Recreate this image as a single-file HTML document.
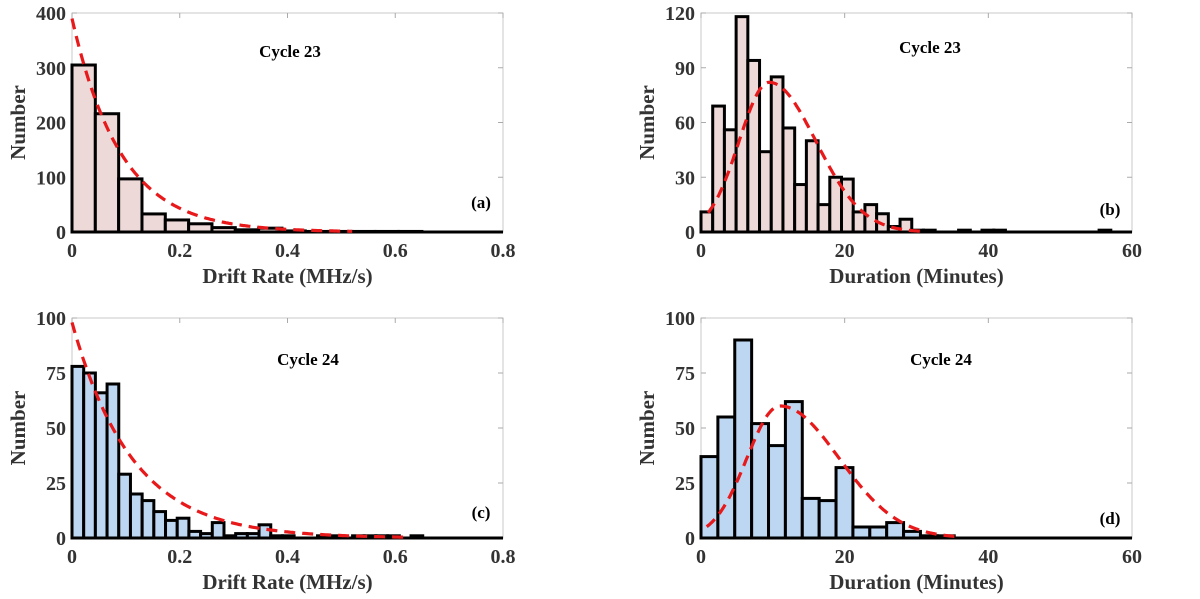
<!DOCTYPE html>
<html><head><meta charset="utf-8"><style>
body{margin:0;background:#fff;}
svg{display:block;font-family:"Liberation Serif",serif;font-weight:bold;}
</style></head><body>
<svg id="fig" width="1200" height="599" viewBox="0 0 1200 599"></svg>
<script>
// Panel (a) drift rate cycle 23
const aValues=[305,216,97,33,22,15,8,4,7,2,1,1,1,1,1];
// Panel (b) duration cycle 23
const bValues=[11,69,56,118,94,44,85,57,26,50,15,30,29,11,15,10,3,7,1,1,0,0,1,0,1,1,0,0,0,0,0,0,0,0,1];
// Panel (c) drift rate cycle 24
const cValues=[78,75,66,70,29,20,17,12,8,9,3,2,7,1,2,2,6,1,1,0,0,1,1,0,1,1,1,1,0,1];
// Panel (d) duration cycle 24
const dValues=[37,55,90,52,42,62,18,17,32,5,5,7,3,1,1,0,0,0,0,0,0,0,0,0,0];
const binWidths=[0.0433,1.63,0.0217,2.35];
const xTicksDrift=[0,0.2,0.4,0.6,0.8];
const xTicksDur=[0,20,40,60];
const yTicksA=[0,100,200,300,400];
const yTicksB=[0,30,60,90,120];
const yTicksC=[0,25,50,75,100];
const yTicksD=[0,25,50,75,100];
// fit params: exponential [A, tau, end], split gaussian [peak, mean, sigmaLeft, sigmaRight, start, end]
const fitA=[390,0.091,0.52];
const fitC=[98,0.112,0.62];
const fitB=[82,9.5,4.2,6.5,1,31];
const fitD=[60,11,4.6,8.2,0.8,36];

const NS="http://www.w3.org/2000/svg";
const svg=document.getElementById('fig');
function mk(tag,attrs,parent){const e=document.createElementNS(NS,tag);for(const k in attrs)e.setAttribute(k,attrs[k]);(parent||svg).appendChild(e);return e;}

function panel(o){
  const g=mk('g',{});
  
  
  const X=v=>o.x0+(v-o.xmin)/(o.xmax-o.xmin)*(o.x1-o.x0);
  const Y=v=>o.y0-(v/o.ymax)*(o.y0-o.y1);
  const fr=mk('rect',{x:o.x0,y:o.y1,width:o.x1-o.x0,height:o.y0-o.y1,fill:'none',stroke:'#c8c8c8','stroke-width':1},g);
  
  
  o.yt.forEach(t=>{
    const y=Y(t);
    mk('line',{x1:o.x0,x2:o.x0+5,y1:y,y2:y,stroke:'#aaa'},g);
    mk('line',{x1:o.x1,x2:o.x1-5,y1:y,y2:y,stroke:'#aaa'},g);
    const tx=mk('text',{x:o.x0-6,y:y+7,'text-anchor':'end','font-size':20,fill:'#333'},g);
    tx.textContent=t;
    
    
  });
  o.xt.forEach(t=>{
    const x=X(t);
    mk('line',{x1:x,x2:x,y1:o.y1,y2:o.y1+5,stroke:'#aaa'},g);
    const tx=mk('text',{x:x,y:o.y0+25,'text-anchor':'middle','font-size':20,fill:'#333'},g);
    tx.textContent=t;
    
    
  });
  o.vals.forEach((v,i)=>{
    const xa=X(o.xmin+i*o.bw), xb=X(o.xmin+(i+1)*o.bw);
    const r=mk('rect',{x:xa,y:Y(v),width:xb-xa,height:Y(0)-Y(v),fill:o.fill,stroke:'#000','stroke-width':3},g);
    
    
  });
  mk('line',{x1:o.x0,x2:o.x1,y1:o.y0,y2:o.y0,stroke:'#000','stroke-width':3},g);
  let pts=[];
  for(let i=0;i<=200;i++){
    const x=o.fs+(o.fe-o.fs)*i/200;
    pts.push(X(x).toFixed(1)+','+Y(o.f(x)).toFixed(1));
  }
  const p=mk('polyline',{points:pts.join(' '),fill:'none',stroke:'#e8191b','stroke-width':3.2,'stroke-dasharray':'11,7'},g);
  
  
  const ct=mk('text',{x:o.cx,y:o.cy,'text-anchor':'middle','font-size':17,fill:'#000'},g);
  ct.textContent=o.cyc;
  
  
  const lt=mk('text',{x:o.x1-22,y:o.ly,'text-anchor':'middle','font-size':17,fill:'#000'},g);
  lt.textContent='('+o.id+')';
  
  
  const xtl=mk('text',{x:(o.x0+o.x1)/2,y:o.y0+51,'text-anchor':'middle','font-size':21,fill:'#333'},g);
  xtl.textContent=o.xlabel;
  
  
  const cy=(o.y0+o.y1)/2, cx=o.x0-47;
  const ytl=mk('text',{x:cx,y:cy,'text-anchor':'middle','font-size':21,fill:'#333',transform:`rotate(-90 ${cx} ${cy})`},g);
  ytl.textContent='Number';
  
  
}
const expf=p=>x=>p[0]*Math.exp(-x/p[1]);
const sgf=p=>x=>{const s=x<p[1]?p[2]:p[3];return p[0]*Math.exp(-(x-p[1])*(x-p[1])/(2*s*s));};
const pink='#eed9d9', blue='#bdd7f2';
panel({id:'a',x0:72,x1:503,y0:232,y1:13,xmin:0,xmax:0.8,ymax:400,xt:xTicksDrift,yt:yTicksA,vals:aValues,bw:binWidths[0],fill:pink,f:expf(fitA),fs:0,fe:fitA[2],cyc:'Cycle 23',cx:290,cy:57,ly:208,xlabel:'Drift Rate (MHz/s)'});
panel({id:'b',x0:701,x1:1132,y0:232,y1:13,xmin:0,xmax:60,ymax:120,xt:xTicksDur,yt:yTicksB,vals:bValues,bw:binWidths[1],fill:pink,f:sgf(fitB),fs:fitB[4],fe:fitB[5],cyc:'Cycle 23',cx:930,cy:53,ly:215,xlabel:'Duration (Minutes)'});
panel({id:'c',x0:72,x1:503,y0:538,y1:318,xmin:0,xmax:0.8,ymax:100,xt:xTicksDrift,yt:yTicksC,vals:cValues,bw:binWidths[2],fill:blue,f:expf(fitC),fs:0,fe:fitC[2],cyc:'Cycle 24',cx:308,cy:365,ly:518,xlabel:'Drift Rate (MHz/s)'});
panel({id:'d',x0:701,x1:1132,y0:538,y1:318,xmin:0,xmax:60,ymax:100,xt:xTicksDur,yt:yTicksD,vals:dValues,bw:binWidths[3],fill:blue,f:sgf(fitD),fs:fitD[4],fe:fitD[5],cyc:'Cycle 24',cx:941,cy:365,ly:524,xlabel:'Duration (Minutes)'});
</script>
</body></html>
